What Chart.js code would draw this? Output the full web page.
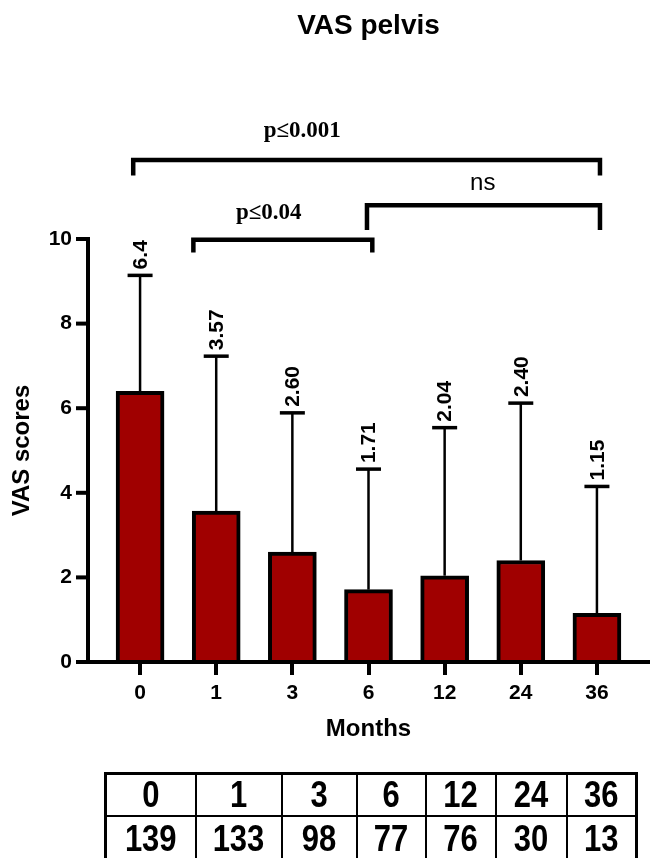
<!DOCTYPE html>
<html>
<head>
<meta charset="utf-8">
<script src="https://cdn.jsdelivr.net/npm/chart.js@4.4.0/dist/chart.umd.min.js"></script>
<style>
    html, body { margin: 0; padding: 0; background: #fff; }
    #wrap { position: relative; width: 650px; height: 858px; overflow: hidden; }
    #chart { position: absolute; left: 0; top: 0; }
    #nTable {
        position: absolute; left: 104px; top: 772px; width: 531px;
        border-collapse: collapse; table-layout: fixed;
        border: 3px solid #000;
        font-family: "Liberation Sans", Arial, sans-serif; font-weight: bold;
    }
    #nTable td {
        border: 2px solid #000; text-align: center; padding: 0;
        font-size: 31px; line-height: 30px; color: #000;
    }
    #nTable tr.head td { height: 40px; }
    #nTable tr.count td { height: 44px; }
    #nTable span { display: inline-block; transform: scaleY(1.2); }
</style>
</head>
<body>
<div id="wrap">
    <canvas id="chart" width="650" height="858"></canvas>
    <table id="nTable">
        <colgroup>
            <col style="width:90px"><col style="width:86px"><col style="width:75px">
            <col style="width:69px"><col style="width:70px"><col style="width:71px"><col style="width:70px">
        </colgroup>
        <tr class="head" id="rowMonths"></tr>
        <tr class="count" id="rowCounts"></tr>
    </table>
</div>
<script>
const months = ['0', '1', '3', '6', '12', '24', '36'];
const meanScores = [6.4, 3.57, 2.60, 1.71, 2.04, 2.40, 1.15];
const sdScores = [2.74, 3.66, 3.29, 2.85, 3.50, 3.72, 3.00];
const valueLabels = ['6.4', '3.57', '2.60', '1.71', '2.04', '2.40', '1.15'];
const patientCounts = [139, 133, 98, 77, 76, 30, 13];
const yTicks = [0, 2, 4, 6, 8, 10];

// significance brackets, in category index / score units
const bracketText = ['p≤0.001', 'p≤0.04', 'ns'];
const bracketFrom = [-0.09, 0.7, 2.98];
const bracketTo = [6.04, 3.05, 6.04];
const bracketLevel = [11.87, 9.98, 10.8];
const bracketLeg = [11.5, 9.68, 10.21];
const bracketTextAt = [2.13, 1.69, 4.5];
const bracketTextLevel = [12.41, 10.47, 11.16];

// table under the chart
const headRow = document.getElementById('rowMonths');
const countRow = document.getElementById('rowCounts');
months.forEach(m => { headRow.insertAdjacentHTML('beforeend', '<td><span>' + m + '</span></td>'); });
patientCounts.forEach(n => { countRow.insertAdjacentHTML('beforeend', '<td><span>' + n + '</span></td>'); });

const extras = {
    id: 'extras',
    afterDatasetsDraw(chart) {
        const ctx = chart.ctx;
        const area = chart.chartArea;
        const x = chart.scales.x;
        const y = chart.scales.y;
        const meta = chart.getDatasetMeta(0);
        ctx.save();
        ctx.strokeStyle = '#000';
        ctx.fillStyle = '#000';
        ctx.lineCap = 'butt';

        // error bars + rotated labels
        meta.data.forEach((bar, i) => {
            const top = y.getPixelForValue(meanScores[i] + sdScores[i]);
            ctx.lineWidth = 2.5;
            ctx.beginPath();
            ctx.moveTo(bar.x, bar.y);
            ctx.lineTo(bar.x, top);
            ctx.stroke();
            ctx.lineWidth = 3.5;
            ctx.beginPath();
            ctx.moveTo(bar.x - 12.5, top);
            ctx.lineTo(bar.x + 12.5, top);
            ctx.stroke();

            ctx.save();
            ctx.translate(bar.x, top - 6);
            ctx.rotate(-Math.PI / 2);
            ctx.font = 'bold 21px "Liberation Sans", Arial, sans-serif';
            ctx.textAlign = 'left';
            ctx.textBaseline = 'middle';
            ctx.fillText(valueLabels[i], 0, 1);
            ctx.restore();
        });

        // axes, y axis sits a bit left of the plot
        const ax = area.left - 14;
        ctx.lineWidth = 4;
        ctx.beginPath();
        ctx.moveTo(ax, y.getPixelForValue(10) - 2);
        ctx.lineTo(ax, area.bottom + 2);
        ctx.stroke();
        yTicks.forEach(v => {
            const py = y.getPixelForValue(v);
            ctx.beginPath();
            ctx.moveTo(ax - 12, py);
            ctx.lineTo(ax, py);
            ctx.stroke();
        });
        ctx.beginPath();
        ctx.moveTo(ax - 2, area.bottom);
        ctx.lineTo(chart.width, area.bottom);
        ctx.stroke();

        // brackets
        bracketText.forEach((txt, i) => {
            const x1 = x.getPixelForValue(bracketFrom[i]);
            const x2 = x.getPixelForValue(bracketTo[i]);
            const yl = y.getPixelForValue(bracketLevel[i]);
            const yb = y.getPixelForValue(bracketLeg[i]);
            ctx.lineWidth = 4.5;
            ctx.lineJoin = 'miter';
            ctx.beginPath();
            ctx.moveTo(x1, yb);
            ctx.lineTo(x1, yl);
            ctx.lineTo(x2, yl);
            ctx.lineTo(x2, yb);
            ctx.stroke();

            if (txt === 'ns') {
                ctx.font = '24px "Liberation Sans", Arial, sans-serif';
            } else {
                ctx.font = 'bold 23px "Liberation Serif", "Times New Roman", serif';
            }
            ctx.textAlign = 'center';
            ctx.textBaseline = 'alphabetic';
            ctx.fillText(txt, x.getPixelForValue(bracketTextAt[i]), y.getPixelForValue(bracketTextLevel[i]));
        });

        // chart title
        ctx.font = 'bold 28px "Liberation Sans", Arial, sans-serif';
        ctx.textAlign = 'center';
        ctx.textBaseline = 'middle';
        ctx.fillText('VAS pelvis', (area.left + area.right) / 2, 26);
        ctx.restore();
    }
};

const ctx = document.getElementById('chart').getContext('2d');
const chart = new Chart(ctx, {
    type: 'bar',
    data: {
        labels: months,
        datasets: [{
            data: meanScores,
            backgroundColor: '#a00000',
            borderColor: '#000',
            borderWidth: 4,
            barThickness: 48
        }]
    },
    options: {
        responsive: false,
        animation: false,
        layout: { padding: { left: 4, right: 15, top: 239, bottom: 106 } },
        plugins: {
            legend: { display: false },
            tooltip: { enabled: false }
        },
        scales: {
            x: {
                afterFit(scale) { scale.height = 90; },
                border: { display: false },
                grid: {
                    display: true, drawOnChartArea: false, drawTicks: true,
                    tickLength: 13, lineWidth: 4, color: '#000', offset: false
                },
                ticks: {
                    color: '#000', padding: 6,
                    font: { family: '"Liberation Sans", Arial, sans-serif', size: 21, weight: 'bold' }
                },
                title: {
                    display: true, text: 'Months', color: '#000',
                    padding: { top: 4, bottom: 8 },
                    font: { family: '"Liberation Sans", Arial, sans-serif', size: 24, weight: 'bold' }
                }
            },
            y: {
                min: 0, max: 10,
                afterFit(scale) { scale.width = 98; },
                border: { display: false },
                grid: { display: false, drawTicks: false },
                ticks: {
                    stepSize: 2, color: '#000', padding: 30,
                    font: { family: '"Liberation Sans", Arial, sans-serif', size: 21, weight: 'bold' }
                },
                title: {
                    display: true, text: 'VAS scores', color: '#000',
                    padding: { top: 4, bottom: 4 },
                    font: { family: '"Liberation Sans", Arial, sans-serif', size: 24, weight: 'bold' }
                }
            }
        }
    },
    plugins: [extras]
});
</script>
</body>
</html>
